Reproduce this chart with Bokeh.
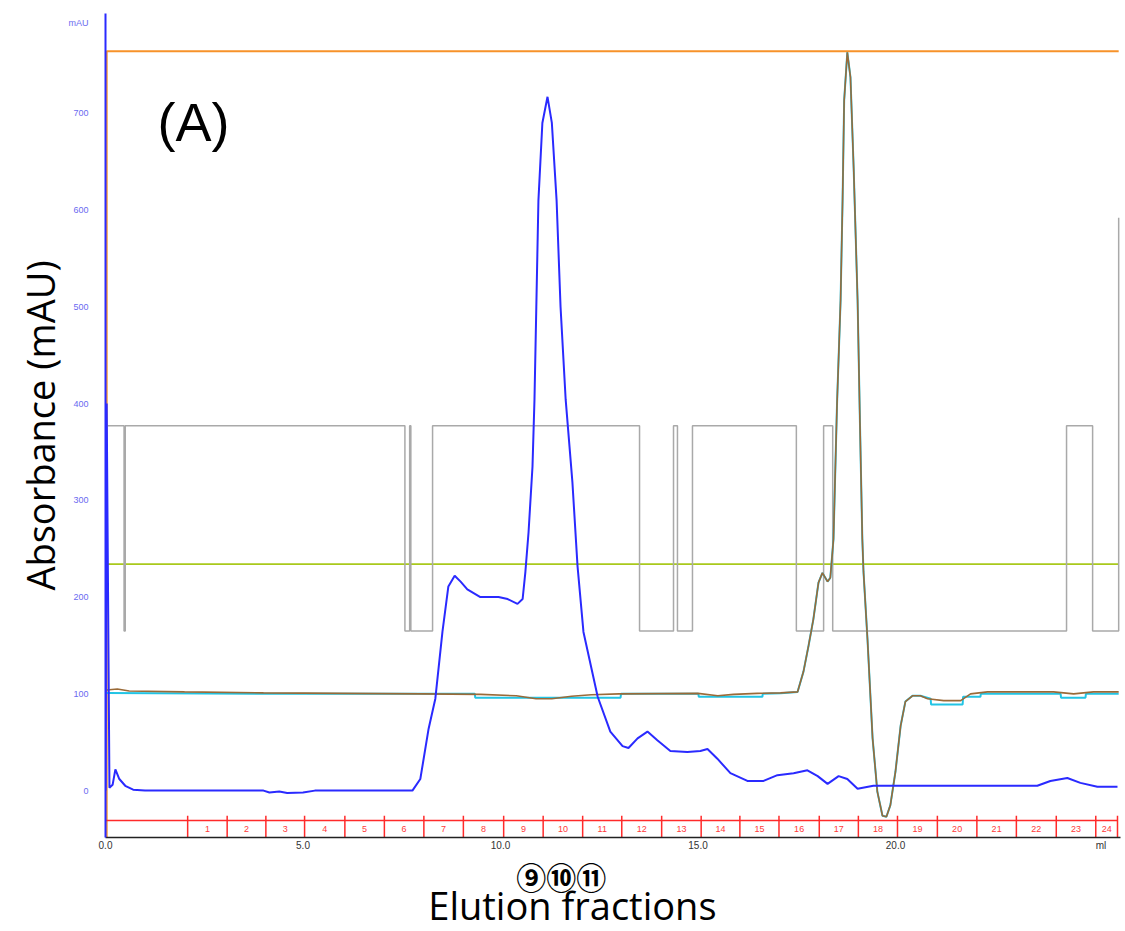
import math
from bokeh.plotting import figure
from bokeh.layouts import column
from bokeh.models import Range1d, FixedTicker, Label
from bokeh.core.properties import value
from bokeh.embed import file_html
from bokeh.resources import INLINE

# ---------------- data (volume in ml, absorbance in mAU) ----------------
uv_x = [0.0, 0.03, 0.10, 0.18, 0.25, 0.35, 0.5, 0.7, 1.0, 4.0, 4.15, 4.4, 4.6, 5.0, 5.3,
        7.77, 7.97, 8.18, 8.35, 8.53, 8.68, 8.84, 8.99, 9.16, 9.49, 9.95, 10.18, 10.43,
        10.56, 10.63, 10.71, 10.81, 10.86, 10.96, 11.06, 11.19, 11.30, 11.42, 11.52,
        11.65, 11.82, 11.95, 12.10, 12.46, 12.78, 13.09, 13.24, 13.47, 13.72, 13.97,
        14.30, 14.73, 15.06, 15.24, 15.49, 15.82, 16.25, 16.66, 17.01, 17.42, 17.77,
        18.03, 18.28, 18.56, 18.78, 19.04, 19.44, 23.59, 23.92, 24.35, 24.68, 25.11, 25.62]
uv_y = [0, 400, 3, 6, 22, 12, 5, 1, 0, 0, -2, -1, -2.5, -2, 0,
        0, 12, 64, 95, 164, 211, 222, 216, 208, 200, 200, 198, 193,
        198, 226, 267, 335, 404, 610, 690, 717, 690, 610, 500,
        404, 319, 232, 164, 97, 61, 46, 44, 54, 61, 52,
        41, 40, 41, 43, 33, 18, 10, 10, 16, 18, 21,
        15, 7, 15, 12, 2, 5, 5, 10, 13, 8, 4, 4]

brown_x = [0.03, 0.3, 0.6, 2.0, 4.0, 8.0, 9.5, 10.4, 10.9, 11.3, 11.8, 12.3, 13.0, 15.0,
           15.5, 15.9, 16.5, 17.09, 17.52, 17.67, 17.80, 17.92, 18.05, 18.15, 18.28, 18.35,
           18.43, 18.52, 18.61, 18.66, 18.70, 18.78, 18.86, 18.94, 19.04, 19.10, 19.16,
           19.19, 19.29, 19.42, 19.54, 19.67, 19.77, 19.87, 20.0, 20.13, 20.25, 20.43,
           20.63, 20.81, 21.22, 21.65, 21.90, 22.33, 24.0, 24.51, 25.01, 25.65]
brown_y = [104, 105, 103, 102, 101, 100, 99.5, 98, 95, 95, 97.5, 99, 100, 100.5,
           98, 99.5, 100.5, 101, 102, 123, 150, 177, 215, 225, 216, 220,
           260, 400, 507, 610, 713, 763, 737, 644, 507, 380, 260,
           226, 157, 54, -1, -26, -27, -15, 20, 67, 92, 98,
           98, 95, 93, 93, 100, 102, 102, 100, 102, 102]

cyan_x = [0.03, 4.5, 9.35, 9.36, 13.04, 13.05, 15.01, 15.02, 16.63, 16.64, 17.09, 17.52,
          17.67, 17.80, 17.92, 18.05, 18.15, 18.28, 18.35, 18.43, 18.52, 18.61, 18.66,
          18.70, 18.78, 18.86, 18.94, 19.04, 19.10, 19.16, 19.19, 19.29, 19.42, 19.54,
          19.67, 19.77, 19.87, 20.0, 20.13, 20.25, 20.43, 20.63, 20.89, 20.90, 21.70,
          21.71, 22.15, 22.16, 24.18, 24.19, 24.81, 24.82, 25.65]
cyan_y = [101, 100, 100, 96, 96, 100, 100, 97, 97, 100, 100.5, 102,
          123, 150, 177, 215, 225, 216, 220, 260, 400, 507, 610,
          713, 763, 737, 644, 507, 380, 260, 226, 157, 54, -1,
          -26, -27, -15, 20, 67, 92, 98, 98, 95, 89, 89,
          97, 97, 100, 100, 96, 96, 100, 100]

gray_x = [0.05, 0.47, 0.47, 0.50, 0.50, 7.58, 7.58, 7.70, 7.70, 7.73, 7.73, 8.28, 8.28,
          13.52, 13.52, 14.38, 14.38, 14.48, 14.48, 14.86, 14.86, 17.49, 17.49, 18.18,
          18.18, 18.41, 18.41, 24.33, 24.33, 24.99, 24.99, 25.65, 25.65]
gray_y = [377, 377, 165, 165, 377, 377, 165, 165, 377, 377, 165, 165, 377,
          377, 165, 165, 377, 377, 165, 165, 377, 377, 165, 165,
          377, 377, 165, 165, 377, 377, 165, 165, 592]

orange_x = [0.03, 0.03, 25.65]
orange_y = [-48.4, 764, 764]
green_x = [0.05, 25.65]
green_y = [234, 234]

frac_bounds = [2.08, 3.08, 4.06, 5.04, 6.06, 7.06, 8.06, 9.06, 10.08, 11.08, 12.08, 13.07,
               14.08, 15.08, 16.06, 17.05, 18.07, 19.06, 20.05, 21.06, 22.06, 23.06, 24.07,
               25.07, 25.62]
frac_labels = [str(i) for i in range(1, 25)]
frac_line_y = -31

y_ticks = [0, 100, 200, 300, 400, 500, 600, 700, 793]
y_tick_labels = ["0", "100", "200", "300", "400", "500", "600", "700", "mAU"]
x_ticks = [0, 5, 10, 15, 20, 25.2]
x_tick_labels = ["0.0", "5.0", "10.0", "15.0", "20.0", "ml"]

selected_fractions = "⑨⑩⑪"
x_title = "Elution fractions"
y_title = "Absorbance (mAU)"

X_RANGE = (0, 25.696)

# ---------------- main figure ----------------
p = figure(width=1125, height=853, output_backend="svg", toolbar_location=None,
           x_range=Range1d(*X_RANGE), y_range=Range1d(-48.45, 803.1),
           min_border_left=105, min_border_right=5, min_border_top=13, min_border_bottom=14)
p.background_fill_color = "white"
p.border_fill_color = "white"
p.outline_line_color = None
p.xgrid.visible = False
p.ygrid.visible = False

# y axis
p.yaxis.ticker = FixedTicker(ticks=y_ticks)
p.yaxis.major_label_overrides = {t: l for t, l in zip(y_ticks, y_tick_labels)}
p.yaxis.axis_line_color = "#2a2aff"
p.yaxis.axis_line_width = 2
p.yaxis.major_tick_line_color = None
p.yaxis.minor_tick_line_color = None
p.yaxis.major_tick_out = 0
p.yaxis.major_label_standoff = 17
p.yaxis.major_label_text_font_size = "9px"
p.yaxis.major_label_text_color = "#6a6af0"
p.yaxis.major_label_text_font = "Liberation Sans"
p.yaxis.axis_label = y_title
p.yaxis.axis_label_text_font = "Open Sans"
p.yaxis.axis_label_text_font_style = "normal"
p.yaxis.axis_label_text_font_size = "38px"
p.yaxis.axis_label_text_color = "black"
p.yaxis.axis_label_standoff = 0

# x axis
p.xaxis.ticker = FixedTicker(ticks=x_ticks)
p.xaxis.major_label_overrides = {t: l for t, l in zip(x_ticks, x_tick_labels)}
p.xaxis.axis_line_color = "#222222"
p.xaxis.axis_line_width = 1.5
p.xaxis.major_tick_line_color = None
p.xaxis.minor_tick_line_color = None
p.xaxis.major_tick_out = 0
p.xaxis.major_label_standoff = 2
p.xaxis.major_label_text_font_size = "10px"
p.xaxis.major_label_text_color = "#333333"
p.xaxis.major_label_text_font = "Liberation Sans"

# traces
p.line(orange_x, orange_y, line_color="#f7922a", line_width=2)
p.line(green_x, green_y, line_color="#a9c91c", line_width=1.8)
p.line(gray_x, gray_y, line_color="#a9a9a9", line_width=1.5)
p.line(cyan_x, cyan_y, line_color="#22c4e4", line_width=2)
p.line(brown_x, brown_y, line_color="#9a6a38", line_width=1.6)
p.line(uv_x, uv_y, line_color="#2a2aff", line_width=2)

# fraction marks
p.line([0, frac_bounds[-1]], [frac_line_y, frac_line_y], line_color="#ff2a2a", line_width=1.5)
p.segment(x0=frac_bounds, y0=[frac_line_y + 5] * len(frac_bounds),
          x1=frac_bounds, y1=[-48.45] * len(frac_bounds),
          line_color="#ff2a2a", line_width=1.5)
mids = [(a + b) / 2 for a, b in zip(frac_bounds[:-1], frac_bounds[1:])]
p.text(x=mids, y=[-39.5] * len(mids), text=frac_labels, text_color="#ff3a3a",
       text_font=value("Liberation Sans"), text_font_size="9px",
       text_align="center", text_baseline="middle")

p.add_layout(Label(x=2.23, y=690.7, text="(A)", text_color="black",
                   text_font="Liberation Sans", text_font_size="54px",
                   text_align="center", text_baseline="middle"))

# ---------------- caption strip below (shares the x scale) ----------------
cap = figure(width=1125, height=78, output_backend="svg", toolbar_location=None,
             x_range=p.x_range, y_range=Range1d(78, 0),
             min_border_left=105, min_border_right=5, min_border_top=0, min_border_bottom=0,
             x_axis_location=None, y_axis_location=None)
cap.outline_line_color = None
cap.xgrid.visible = False
cap.ygrid.visible = False
cap.background_fill_color = "white"
cap.border_fill_color = "white"
cap.text(x=[11.54], y=[22], text=[selected_fractions], text_color="black",
         text_font=value("Noto Sans CJK JP"), text_font_size="30px", text_font_style="bold",
         text_align="center", text_baseline="middle")
cap.text(x=[11.82], y=[51.8], text=[x_title], text_color="black",
         text_font=value("Open Sans"), text_font_size="38px",
         text_align="center", text_baseline="middle")

layout = column(p, cap, spacing=0)
open("out.html", "w").write(file_html(layout, INLINE))
